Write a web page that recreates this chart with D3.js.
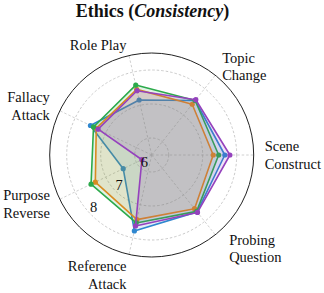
<!DOCTYPE html>
<html>
<head>
<meta charset="utf-8">
<script src="https://cdn.jsdelivr.net/npm/d3@7"></script>
<style>
  body { margin: 0; background: #fff; }
  svg { display: block; }
  text { font-family: "Liberation Serif", "Times New Roman", serif; fill: #111; }
</style>
</head>
<body>
<svg width="324" height="293"></svg>
<script>
// axes go counter-clockwise starting from the right (east)
const categories = [
  "Scene Construct", "Topic Change", "Role Play", "Fallacy Attack",
  "Purpose Reverse", "Reference Attack", "Probing Question"
];
const rTicks = [6, 7, 8];

// one list per model, same order as categories
const blueVals   = [7.65, 7.55, 7.16, 7.50, 6.43, 7.79, 7.64];
const orangeVals = [7.31, 7.41, 7.48, 7.31, 7.34, 7.45, 7.52];
const greenVals  = [7.47, 7.55, 7.61, 7.40, 7.48, 7.55, 7.62];
const purpleVals = [7.80, 7.58, 7.44, 7.25, 5.82, 7.64, 7.66];

const series = [
  { values: blueVals, color: "#2f87cf" },
  { values: orangeVals, color: "#f5861a" },
  { values: greenVals, color: "#2caa4b" },
  { values: purpleVals, color: "#9542bd" },
];

const cx = 151.7, cy = 155, R = 102;
const svg = d3.select("svg");

const rScale = d3.scaleLinear().domain([5.5, 8.5]).range([0, R]);
const aScale = d3.scaleLinear().domain([0, categories.length]).range([0, 2 * Math.PI]);

// polar -> screen (math angle, y flipped)
const px = (i, r) => cx + r * Math.cos(aScale(i));
const py = (i, r) => cy - r * Math.sin(aScale(i));

const g = svg.append("g");

// grid circles
g.selectAll("circle.grid")
  .data(rTicks)
  .enter()
  .append("circle")
  .attr("cx", cx).attr("cy", cy)
  .attr("r", (d) => rScale(d))
  .attr("fill", "none")
  .attr("stroke", "#bdbdbd")
  .attr("stroke-width", 0.8)
  .attr("stroke-dasharray", "2.5,2");

// spokes
g.selectAll("line.spoke")
  .data(categories)
  .enter()
  .append("line")
  .attr("x1", cx).attr("y1", cy)
  .attr("x2", (d, i) => px(i, R))
  .attr("y2", (d, i) => py(i, R))
  .attr("stroke", "#c4c4c4")
  .attr("stroke-width", 0.8)
  .attr("stroke-dasharray", "2.5,2");

// outer frame
g.append("circle")
  .attr("cx", cx).attr("cy", cy).attr("r", R)
  .attr("fill", "none")
  .attr("stroke", "#222")
  .attr("stroke-width", 1);

const line = d3.line()
  .x((d, i) => px(i, rScale(d)))
  .y((d, i) => py(i, rScale(d)))
  .curve(d3.curveLinearClosed);

series.forEach((s) => {
  g.append("path")
    .datum(s.values)
    .attr("d", line)
    .attr("fill", s.color)
    .attr("fill-opacity", 0.14)
    .attr("stroke", s.color)
    .attr("stroke-width", 1.6)
    .attr("stroke-linejoin", "round");

  g.selectAll(null)
    .data(s.values)
    .enter()
    .append("circle")
    .attr("cx", (d, i) => px(i, rScale(d)))
    .attr("cy", (d, i) => py(i, rScale(d)))
    .attr("r", 2.6)
    .attr("fill", s.color);
});

// radial tick labels, along the lower-left direction
const rlabAngle = (222 * Math.PI) / 180;
g.selectAll("text.rtick")
  .data(rTicks)
  .enter()
  .append("text")
  .attr("x", (d) => cx + (rScale(d) - 7) * Math.cos(rlabAngle))
  .attr("y", (d) => cy - (rScale(d) - 7) * Math.sin(rlabAngle))
  .attr("text-anchor", "middle")
  .attr("dy", "0.35em")
  .attr("font-size", 14.5)
  .text((d) => d);

// category labels
const labelR = 113;
const lineH = 17.5;
const labelNudge = [[0, 0], [0, 0], [0, 0], [0, 0], [0, 0], [0, 10], [7, 5]];
categories.forEach((c, i) => {
  const lines = c === "Role Play" ? [c] : c.split(" ");
  const cos = Math.cos(aScale(i));
  const anchor = cos > 0.01 ? "start" : cos < -0.01 ? "end" : "middle";
  const x = px(i, labelR) + labelNudge[i][0];
  const y0 = py(i, labelR) + labelNudge[i][1] - ((lines.length - 1) * lineH) / 2;
  const t = g.append("text")
    .attr("text-anchor", anchor)
    .attr("font-size", 14.5);
  lines.forEach((l, k) => {
    t.append("tspan")
      .attr("x", x)
      .attr("y", y0 + k * lineH)
      .attr("dy", "0.35em")
      .text(l);
  });
});

// title
const title = svg.append("text")
  .attr("x", 152.5)
  .attr("y", 17)
  .attr("text-anchor", "middle")
  .attr("font-size", 18)
  .attr("font-weight", "bold");
title.append("tspan").text("Ethics (");
title.append("tspan").attr("font-style", "italic").text("Consistency");
title.append("tspan").text(")");
</script>
</body>
</html>
